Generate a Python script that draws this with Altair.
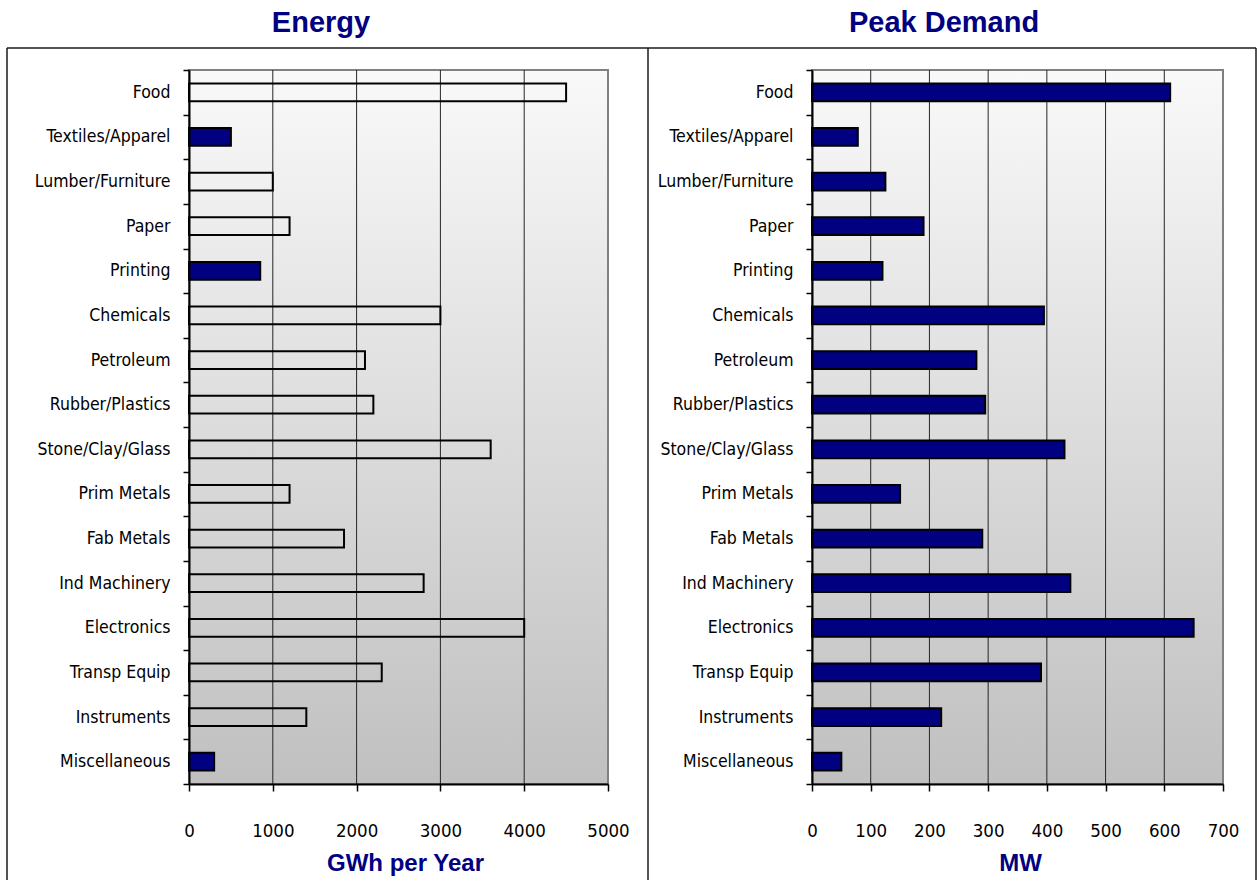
import altair as alt
import pandas as pd

# Industrial sectors, top to bottom
industries = [
    "Food", "Textiles/Apparel", "Lumber/Furniture", "Paper", "Printing",
    "Chemicals", "Petroleum", "Rubber/Plastics", "Stone/Clay/Glass",
    "Prim Metals", "Fab Metals", "Ind Machinery", "Electronics",
    "Transp Equip", "Instruments", "Miscellaneous",
]
energy_gwh = [4500, 500, 1000, 1200, 850, 3000, 2100, 2200, 3600,
              1200, 1850, 2800, 4000, 2300, 1400, 300]
peak_mw = [610, 78, 125, 190, 120, 395, 280, 295, 430,
           150, 290, 440, 650, 390, 220, 50]
# sectors drawn as solid bars in the energy panel
energy_solid = ["Textiles/Apparel", "Printing", "Miscellaneous"]

energy_ticks = [0, 1000, 2000, 3000, 4000, 5000]
peak_ticks = [0, 100, 200, 300, 400, 500, 600, 700]

df = pd.DataFrame({"Industry": industries, "Energy": energy_gwh, "Peak": peak_mw})
anchor = pd.DataFrame({"k": [0]})

NAVY = "#000080"
LABEL_FONT = "'DejaVu Sans Condensed', 'Liberation Sans Narrow', 'Arial Narrow', sans-serif"
TITLE_FONT = "'Liberation Sans', Arial, sans-serif"
W1, W2, H = 419, 411, 714

shade = alt.LinearGradient(
    gradient="linear",
    stops=[alt.GradientStop(color="#f9f9f9", offset=0),
           alt.GradientStop(color="#c0c0c0", offset=1)],
    x1=0, x2=0, y1=0, y2=1,
)


def line(x, x2, y, y2):
    return alt.Chart(anchor).mark_rule(color="#1a1a1a", strokeWidth=1.5).encode(
        x=alt.value(x), x2=alt.value(x2), y=alt.value(y), y2=alt.value(y2)
    )


def heading(text, cx):
    return alt.Chart(anchor).mark_text(
        font=TITLE_FONT, fontSize=29, fontWeight="bold", color=NAVY,
        align="center", baseline="alphabetic",
    ).encode(x=alt.value(cx), y=alt.value(-38), text=alt.value(text))


def panel(field, ticks, width, axis_title, title_x, fill):
    xscale = alt.Scale(domain=[ticks[0], ticks[-1]], nice=False)
    xaxis = alt.Axis(
        values=ticks, format="d", grid=False, tickSize=7,
        tickColor="black", tickWidth=1.5, domainColor="black",
        domainWidth=2, labelFont=LABEL_FONT, labelFontSize=18.5,
        labelColor="black", labelBaseline="alphabetic", labelPadding=45,
        labelFlush=False,
        title=axis_title, titleFont=TITLE_FONT, titleFontSize=24,
        titleFontWeight="bold", titleColor=NAVY, titleY=86,
        titleX=title_x, titleAlign="center", titleBaseline="alphabetic",
        zindex=1,
    )
    backdrop = alt.Chart(anchor).mark_rect(
        fill=shade, stroke="#808080", strokeWidth=2
    ).encode(x=alt.value(0), x2=alt.value(width), y=alt.value(0), y2=alt.value(H))
    # vertical gridlines at the inner tick values
    grid = alt.Chart(pd.DataFrame({field: ticks[1:-1]})).mark_rule(
        color="#262626", strokeWidth=1
    ).encode(x=alt.X(f"{field}:Q", scale=xscale, axis=xaxis))
    bars = alt.Chart(df).mark_bar(
        height=alt.RelativeBandSize(band=0.4), stroke="black", strokeWidth=2
    ).encode(
        y=alt.Y(
            "Industry:N", sort=industries, title=None,
            scale=alt.Scale(paddingInner=0, paddingOuter=0),
            axis=alt.Axis(
                tickBand="extent", tickSize=6, tickColor="black", tickWidth=1.5,
                domainColor="black", domainWidth=2, grid=False,
                labelFont=LABEL_FONT, labelFontSize=17.5, labelColor="black",
                labelPadding=13, zindex=1,
            ),
        ),
        x=alt.X(f"{field}:Q", scale=xscale, axis=xaxis),
        fill=fill,
    )
    return backdrop, grid, bars


# Energy panel
e_back, e_grid, e_bars = panel(
    "Energy", energy_ticks, W1, "GWh per Year", 216,
    alt.condition(alt.FieldOneOfPredicate(field="Industry", oneOf=energy_solid),
                  alt.value(NAVY), alt.value("transparent")),
)
canvas = alt.Chart(anchor).mark_rect(fill="white").encode(
    x=alt.value(-189), x2=alt.value(1068), y=alt.value(-70), y2=alt.value(810)
)
left = alt.layer(
    canvas,
    line(-182, 459, -22, -22), line(-182, -182, -22, 810), line(459, 459, -22, 810),
    heading("Energy", 132),
    e_back, e_grid, e_bars,
).properties(width=W1, height=H)

# Peak demand panel
p_back, p_grid, p_bars = panel("Peak", peak_ticks, W2, "MW", 208, alt.value(NAVY))
right = alt.layer(
    line(-164, 444, -22, -22), line(444, 444, -22, 810),
    heading("Peak Demand", 132),
    p_back, p_grid, p_bars,
).properties(width=W2, height=H)

chart = alt.hconcat(left, right, spacing=204, bounds="flush", padding=0).configure_view(stroke=None)

chart.save("out.html", embed_options={"renderer": "svg", "actions": False})
